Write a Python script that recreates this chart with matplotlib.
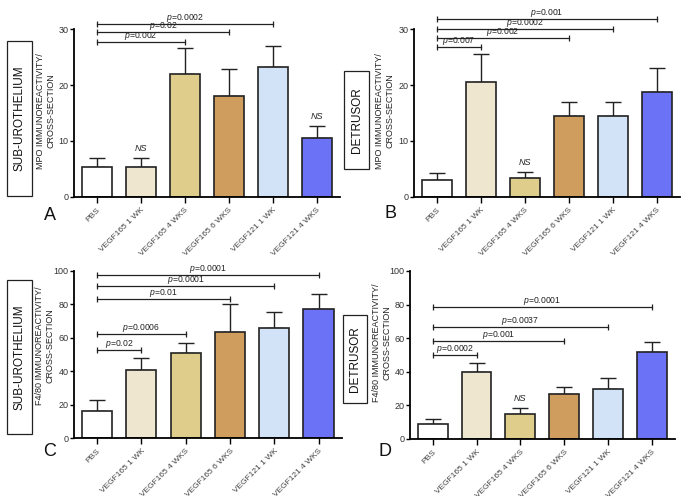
import numpy as np
import matplotlib
matplotlib.use("Agg")
import matplotlib.pyplot as plt
from matplotlib.patches import Rectangle

plt.rcParams['font.family'] = ['Liberation Sans', 'DejaVu Sans']
plt.rcParams['mathtext.fontset'] = 'custom'
plt.rcParams['mathtext.it'] = 'Liberation Sans:italic'
plt.rcParams['mathtext.rm'] = 'Liberation Sans'

# data
groups = ['PBS', 'VEGF165 1 WK', 'VEGF165 4 WKS', 'VEGF165 6 WKS', 'VEGF121 1 WK', 'VEGF121 4 WKS']
bar_colors = ['#FFFFFF', '#EFE6CF', '#DFCE8B', '#CF9E5F', '#D2E3F8', '#6B72F6']

mpo_sub_mean = [5.3, 5.3, 22.0, 18.1, 23.2, 10.5]
mpo_sub_sem = [1.7, 1.7, 4.6, 4.7, 3.8, 2.2]
mpo_det_mean = [3.0, 20.5, 3.4, 14.5, 14.5, 18.8]
mpo_det_sem = [1.2, 5.0, 1.1, 2.5, 2.5, 4.2]
f480_sub_mean = [16.0, 40.5, 51.0, 63.5, 66.0, 77.0]
f480_sub_sem = [6.5, 7.5, 6.0, 16.5, 9.5, 9.0]
f480_det_mean = [9.0, 40.0, 15.0, 27.0, 30.0, 51.5]
f480_det_sem = [3.0, 5.5, 3.5, 4.0, 6.5, 6.5]

# (compared group, bracket height, p value) - all against PBS
sig_a = [(2, 27.7, '0.002'), (3, 29.4, '0.02'), (4, 30.9, '0.0002')]
sig_b = [(1, 26.7, '0.007'), (3, 28.4, '0.002'), (4, 30.05, '0.0002'), (5, 31.7, '0.001')]
sig_c = [(1, 52.5, '0.02'), (2, 62.5, '0.0006'), (3, 83.2, '0.01'), (4, 91.3, '0.0001'), (5, 97.4, '0.0001')]
sig_d = [(1, 49.9, '0.0002'), (3, 58.3, '0.001'), (4, 66.8, '0.0037'), (5, 78.4, '0.0001')]
ns_a = [1, 5]
ns_b = [2]
ns_c = []
ns_d = [2]

W, H = 685, 496
fig = plt.figure(figsize=(W / 100, H / 100), dpi=100)


def fx(x):
    return x / W


def fy(y):
    return 1 - y / H


def make_panel(box, mean, sem, sigs, ns, ymax, ystep, ylabel, region, letter, ylab_xy, box_rect, box_xy, letter_xy):
    left, top, right, bottom = box
    ax = fig.add_axes([fx(left), fy(bottom), fx(right - left), (bottom - top) / H])
    x = np.arange(len(groups))
    ax.bar(x, mean, width=0.68, color=bar_colors, edgecolor='#222222', linewidth=1.2, zorder=2)
    ax.errorbar(x, mean, yerr=[np.zeros(len(sem)), sem], fmt='none', ecolor='#222222',
                elinewidth=1.0, capsize=5.5, capthick=1.0, zorder=1)
    ax.set_xlim(-0.52, 5.53)
    ax.set_ylim(0, ymax)
    ax.set_yticks(np.arange(0, ymax + 0.1, ystep))
    ax.set_xticks(x)
    ax.set_xticklabels(groups, rotation=45, ha='right', rotation_mode='anchor',
                       fontsize=6.0, color='#444444')
    ax.tick_params(axis='y', labelsize=6.5, labelcolor='#333333', length=3, width=1, pad=1)
    ax.tick_params(axis='x', length=4, width=1, pad=3)
    for s in ['top', 'right']:
        ax.spines[s].set_visible(False)
    for s in ['left', 'bottom']:
        ax.spines[s].set_linewidth(1.3)
    ax.set_facecolor('none')

    for j, yv, p in sigs:
        ax.plot([0, j], [yv, yv], color='#222222', lw=0.9, marker='|', markersize=4,
                markeredgewidth=0.9, clip_on=False)
        ax.text(j / 2, yv, '$p$=' + p, ha='center', va='bottom',
                fontsize=6.2, color='#222222', clip_on=False)
    for j in ns:
        ax.text(j, mean[j] + sem[j] + ymax * 0.03, 'NS', ha='center', va='bottom',
                fontsize=6.5, style='italic', color='#222222')

    fig.text(fx(ylab_xy[0]), fy(ylab_xy[1]), ylabel, rotation=90, ha='center', va='center',
             fontsize=6.5, linespacing=1.25, color='#222222')
    bx0, by0, bx1, by1 = box_rect
    fig.add_artist(Rectangle((fx(bx0), fy(by1)), fx(bx1 - bx0), (by1 - by0) / H,
                             transform=fig.transFigure, fill=False, edgecolor='#222222', lw=0.9))
    fig.text(fx(box_xy[0]), fy(box_xy[1]), region, rotation=90, ha='center', va='center',
             fontsize=8.5, color='#111111')
    fig.text(fx(letter_xy[0]), fy(letter_xy[1]), letter, ha='center', va='center',
             fontsize=13, color='#111111')
    return ax


mpo_label = 'MPO IMMUNOREACTIVITY/\nCROSS-SECTION'
f480_label = 'F4/80 IMMUNOREACTIVITY/\nCROSS-SECTION'

make_panel((74, 29, 340, 197), mpo_sub_mean, mpo_sub_sem, sig_a, ns_a, 30, 10,
           mpo_label, 'SUB-UROTHELIUM', 'A', (46, 111), (7, 41, 32, 196), (20, 118), (50, 215))
make_panel((414, 29, 680, 197), mpo_det_mean, mpo_det_sem, sig_b, ns_b, 30, 10,
           mpo_label, 'DETRUSOR', 'B', (385, 111), (344, 71, 369, 169), (357, 120), (391, 213))
make_panel((74, 271, 342, 438), f480_sub_mean, f480_sub_sem, sig_c, ns_c, 100, 20,
           f480_label, 'SUB-UROTHELIUM', 'C', (45, 346), (7, 280, 32, 434), (20, 357), (50, 452))
make_panel((410, 271, 675, 439), f480_det_mean, f480_det_sem, sig_d, ns_d, 100, 20,
           f480_label, 'DETRUSOR', 'D', (382, 343), (343, 315, 367, 403), (355, 359), (385, 452))

fig.savefig('out.png', dpi=100)
